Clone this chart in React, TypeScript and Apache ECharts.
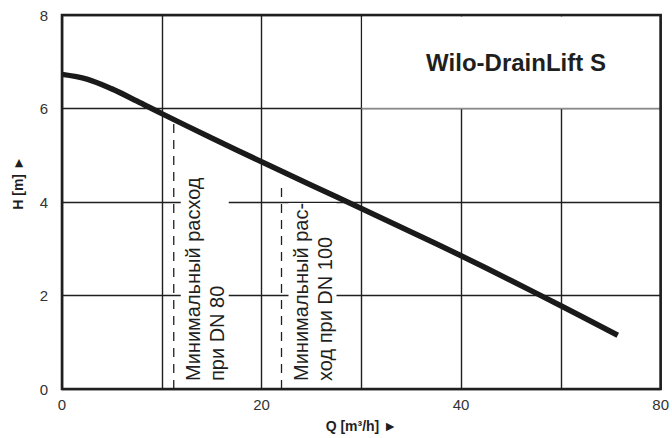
import React, { useEffect, useRef } from 'react';
import * as echarts from 'echarts';

// Pump curve Q [m³/h] -> H [m]
const qValues = [0, 2.5, 5, 7.5, 10, 15, 20, 25, 30, 35, 40, 45, 50, 55.7];
const hValues = [6.73, 6.63, 6.42, 6.16, 5.89, 5.37, 4.86, 4.36, 3.86, 3.36, 2.85, 2.32, 1.78, 1.15];

// Minimum flow markers
const markerQ = [11.2, 22.0];
const markerTopH = [5.71, 4.35];
const markerTexts = ['Минимальный расход\nпри DN 80', 'Минимальный рас-\nход при DN 100'];

// Axis ticks
const xTickValues = [0, 20, 40, 60];
const xTickLabels = ['0', '20', '40', '80'];
const yTickValues = [0, 2, 4, 6, 8];

const titleText = 'Wilo-DrainLift S';
const xName = 'Q [m³/h] ►';
const yName = 'H [m] ►';

export default function App() {
  const ref = useRef<HTMLDivElement>(null);
  useEffect(() => {
    const chart = echarts.init(ref.current!, null, { renderer: 'svg' });
    const font = "'Liberation Sans', Arial, Helvetica, sans-serif";
    const ink = '#1f1f1f';
    const curve = qValues.map((q, i) => [q, hValues[i]]);
    const markerSeries = markerQ.map((q, i) => ({
      type: 'line',
      data: [[q, 0], [q, markerTopH[i]]],
      symbol: 'none',
      silent: true,
      z: 2,
      lineStyle: { color: ink, width: 1.3, type: [9, 7] },
    }));
    chart.setOption({
      animation: false,
      backgroundColor: '#fff',
      grid: {
        left: 62, right: 11, top: 15, bottom: 45,
        show: true, borderColor: ink, borderWidth: 0, backgroundColor: '#fff',
      },
      xAxis: {
        type: 'value', min: 0, max: 60, interval: 10,
        name: xName, nameLocation: 'middle', nameGap: 30,
        nameTextStyle: { fontFamily: font, fontWeight: 'bold', fontSize: 14, color: ink },
        axisLine: { show: false },
        axisTick: { show: false },
        axisLabel: {
          fontFamily: font, fontSize: 15, color: '#333', margin: 8,
          formatter: (v: number) => {
            const idx = xTickValues.indexOf(v);
            return idx >= 0 ? xTickLabels[idx] : '';
          },
        },
        splitLine: { show: true, lineStyle: { color: ink, width: 1.4 } },
      },
      yAxis: {
        type: 'value', min: 0, max: 8, interval: 2,
        name: yName, nameLocation: 'middle', nameGap: 37,
        nameTextStyle: {
          fontFamily: font, fontWeight: 'bold', fontSize: 14, color: ink,
          padding: [0, 0, 0, 38],
        },
        axisLine: { show: false },
        axisTick: { show: false },
        axisLabel: {
          fontFamily: font, fontSize: 15, color: '#333', margin: 14,
          formatter: (v: number) => (yTickValues.indexOf(v) >= 0 ? String(v) : ''),
        },
        splitLine: { show: true, lineStyle: { color: ink, width: 1.4 } },
      },
      series: [
        {
          type: 'line',
          data: curve,
          symbol: 'none',
          smooth: 0.35,
          z: 3,
          lineStyle: { color: '#1a1a1a', width: 5.5, cap: 'butt' },
        },
        ...markerSeries,
      ],
    });

    const px = (q: number, h: number) => chart.convertToPixel({ gridIndex: 0 }, [q, h]) as number[];
    const o0 = px(0, 8);
    const o1 = px(60, 0);
    const tl = px(30, 8);
    const br = px(60, 6);
    const graphics: any[] = [
      {
        type: 'rect', z: 1, silent: true,
        shape: { x: tl[0] + 1, y: tl[1] + 1.5, width: br[0] - tl[0] - 2.5, height: br[1] - tl[1] - 2 },
        style: { fill: '#fff' },
      },
      {
        type: 'line', z: 1, silent: true,
        shape: { x1: tl[0], y1: br[1], x2: br[0], y2: br[1] },
        style: { stroke: '#8a8a8a', lineWidth: 1.6 },
      },
      {
        type: 'rect', z: 6, silent: true,
        shape: { x: o0[0], y: o0[1], width: o1[0] - o0[0], height: o1[1] - o0[1] },
        style: { fill: 'none', stroke: ink, lineWidth: 2.6 },
      },
      {
        type: 'text', z: 5, silent: true,
        x: (tl[0] + br[0]) / 2 + 5, y: (tl[1] + br[1]) / 2 + 1,
        style: {
          text: titleText, fontFamily: font, fontWeight: 'bold', fontSize: 24,
          fill: ink, textAlign: 'center', textVerticalAlign: 'middle',
        },
      },
    ];
    markerQ.forEach((q, i) => {
      const p = px(q, 0);
      graphics.push({
        type: 'text', z: 4, silent: true,
        x: p[0] + 7, y: p[1] - 8, rotation: Math.PI / 2,
        style: {
          text: markerTexts[i], fontFamily: font, fontSize: 20, lineHeight: 24,
          fill: ink, textAlign: 'left', textVerticalAlign: 'top',
          backgroundColor: '#fff', padding: 0,
        },
      });
    });
    chart.setOption({ graphic: graphics });
    return () => chart.dispose();
  }, []);
  return <div ref={ref} style={{ position: 'fixed', left: 0, top: 0, width: 672, height: 438 }} />;
}
